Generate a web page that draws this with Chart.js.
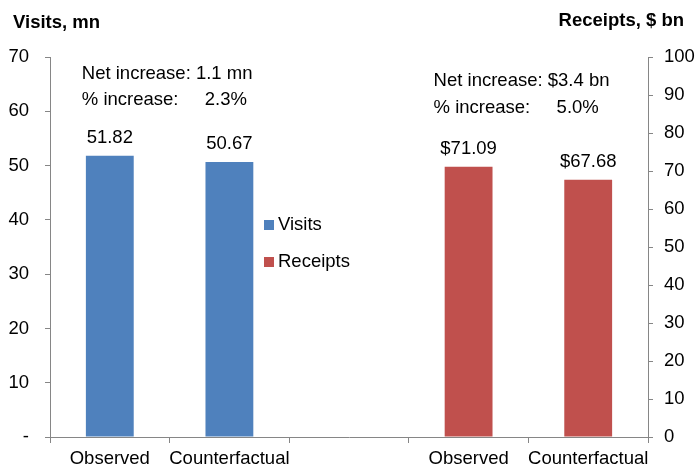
<!DOCTYPE html>
<html>
<head>
<meta charset="utf-8">
<script src="https://cdn.jsdelivr.net/npm/chart.js@4.4.1/dist/chart.umd.min.js"></script>
<style>
  html, body { margin: 0; padding: 0; background: #fff; }
  #wrap { width: 695px; height: 466px; position: relative; }
</style>
</head>
<body>
<div id="wrap"><canvas id="chart"></canvas></div>
<script>
const categories = ['Observed', 'Counterfactual', '', 'Observed', 'Counterfactual'];
const visits = [51.82, 50.67, null, null, null];
const receipts = [null, null, null, 71.09, 67.68];
const leftTicks = { min: 0, max: 70, step: 10 };
const rightTicks = { min: 0, max: 100, step: 10 };
const visitsNote = ['Net increase: 1.1 mn', '% increase:', '2.3%'];
const receiptsNote = ['Net increase: $3.4 bn', '% increase:', '5.0%'];

const FONT = "'Liberation Sans', Arial, sans-serif";
const SIZE = 18.5;
const BLUE = '#4F81BD';
const RED = '#C0504D';
const AXIS = '#868686';

Chart.defaults.font.family = FONT;
Chart.defaults.font.size = SIZE;
Chart.defaults.color = '#000';

const extras = {
  id: 'extras',
  afterDatasetsDraw(chart) {
    const { ctx, chartArea, scales } = chart;
    ctx.save();
    ctx.fillStyle = '#000';
    ctx.textBaseline = 'middle';

    // value labels above bars
    ctx.font = `${SIZE}px ${FONT}`;
    ctx.textAlign = 'center';
    chart.data.datasets.forEach((ds, i) => {
      chart.getDatasetMeta(i).data.forEach((bar, j) => {
        const v = ds.data[j];
        if (v == null) return;
        const text = i === 0 ? v.toFixed(2) : '$' + v.toFixed(2);
        ctx.fillText(text, bar.x, bar.y - 18);
      });
    });

    // axis titles
    ctx.font = `bold ${SIZE}px ${FONT}`;
    ctx.textAlign = 'left';
    ctx.fillText('Visits, mn', 13, 23);
    ctx.textAlign = 'right';
    ctx.fillText('Receipts, $ bn', 684, 21);

    // notes
    ctx.font = `${SIZE}px ${FONT}`;
    ctx.textAlign = 'left';
    const lx = scales.x.getPixelForValue(0) - 28;
    ctx.fillText(visitsNote[0], lx, chartArea.top + 17);
    ctx.fillText(visitsNote[1], lx, chartArea.top + 43);
    ctx.fillText(visitsNote[2], lx + 123, chartArea.top + 43);
    const rx = scales.x.getPixelForValue(3) - 35;
    ctx.fillText(receiptsNote[0], rx, chartArea.top + 24);
    ctx.fillText(receiptsNote[1], rx, chartArea.top + 51);
    ctx.fillText(receiptsNote[2], rx + 123, chartArea.top + 51);

    // legend
    const gx = scales.x.getPixelForValue(2) - 85;
    chart.data.datasets.forEach((ds, i) => {
      const cy = 225 + i * 37;
      ctx.fillStyle = ds.backgroundColor;
      ctx.fillRect(gx, cy - 5, 10, 10);
      ctx.fillStyle = '#000';
      ctx.fillText(ds.label, gx + 14, cy);
    });
    ctx.restore();
  }
};

new Chart(document.getElementById('chart'), {
  type: 'bar',
  data: {
    labels: categories,
    datasets: [
      { label: 'Visits', data: visits, backgroundColor: BLUE, yAxisID: 'y' },
      { label: 'Receipts', data: receipts, backgroundColor: RED, yAxisID: 'y1' }
    ]
  },
  options: {
    responsive: true,
    maintainAspectRatio: false,
    animation: false,
    skipNull: true,
    categoryPercentage: 0.4,
    barPercentage: 1,
    layout: { padding: { top: 57, left: 0, right: 0, bottom: 0 } },
    plugins: {
      legend: { display: false },
      tooltip: { enabled: false }
    },
    scales: {
      x: {
        grid: { offset: true, drawOnChartArea: false, tickLength: 6, color: AXIS },
        border: { color: AXIS },
        ticks: { color: '#000', maxRotation: 0, autoSkip: false, padding: 5 },
        afterFit: (s) => { s.height = 29; }
      },
      y: {
        position: 'left',
        min: leftTicks.min,
        max: leftTicks.max,
        grid: { drawOnChartArea: false, tickLength: 5, color: AXIS },
        border: { color: AXIS },
        ticks: {
          stepSize: leftTicks.step,
          color: '#000',
          padding: 16,
          callback: (v) => (v === 0 ? '-' : v)
        },
        afterFit: (s) => { s.width = 50; }
      },
      y1: {
        position: 'right',
        min: rightTicks.min,
        max: rightTicks.max,
        grid: { drawOnChartArea: false, tickLength: 5, color: AXIS },
        border: { color: AXIS },
        ticks: { stepSize: rightTicks.step, color: '#000', padding: 11 },
        afterFit: (s) => { s.width = 47; }
      }
    }
  },
  plugins: [extras]
});
</script>
</body>
</html>
